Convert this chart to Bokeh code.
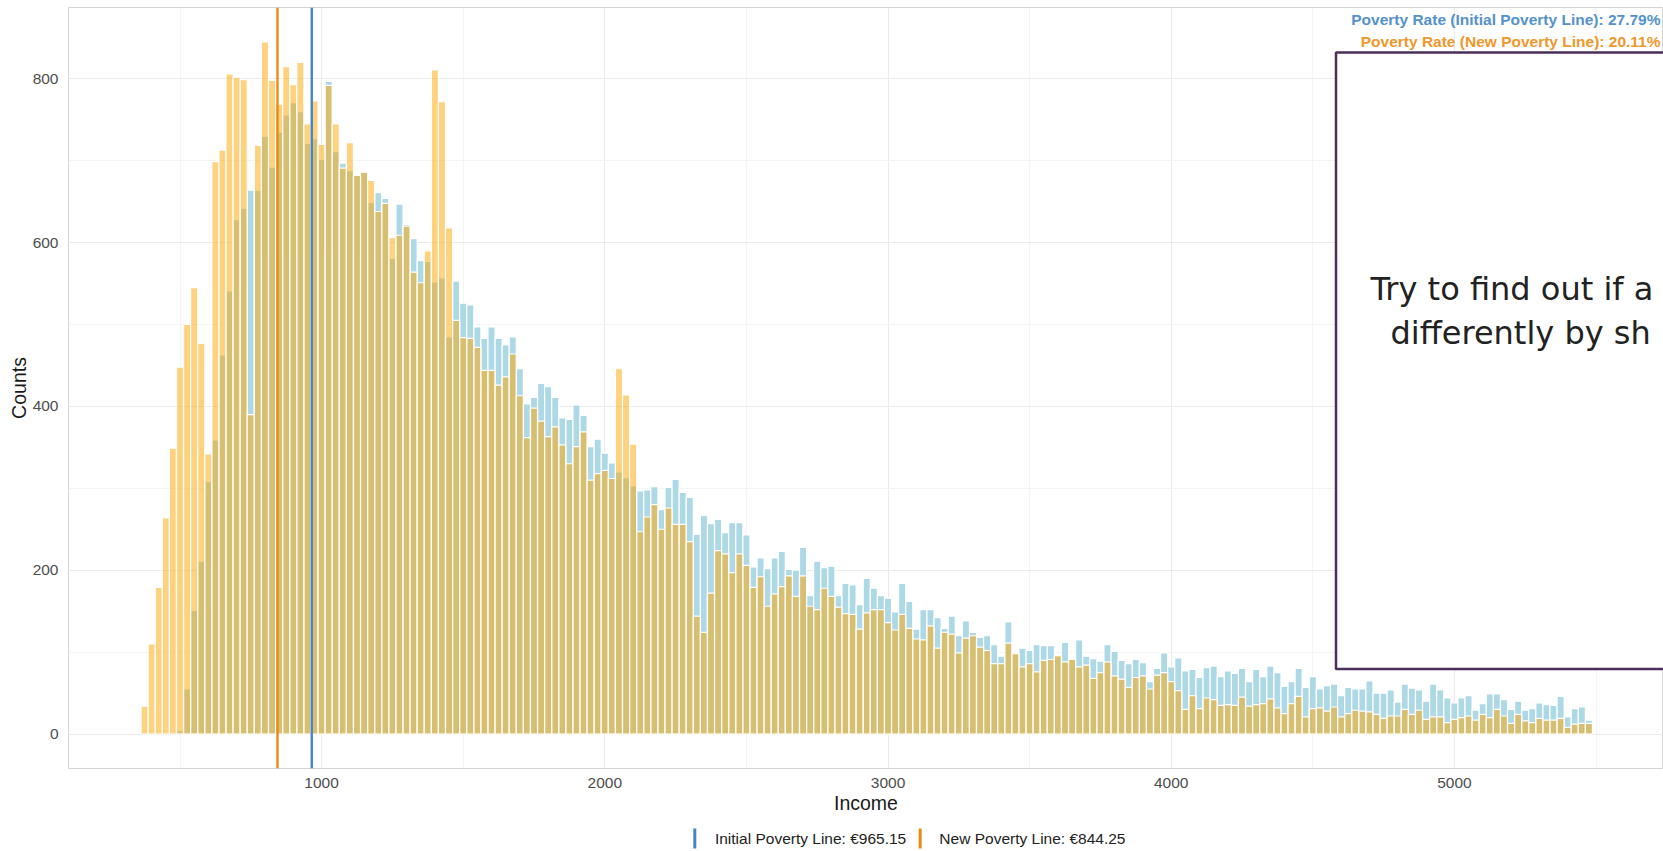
from bokeh.plotting import figure
from bokeh.layouts import column
from bokeh.models import (Range1d, SingleIntervalTicker, Span, BoxAnnotation, Label,
                          ColumnDataSource)
from bokeh.core.properties import value
from bokeh.embed import file_html
from bokeh.resources import INLINE

# ---------------- data ----------------
BIN_START = 375          # centre of the first income bin
BIN_WIDTH = 25           # histogram bin width (income)

# counts per bin, income distribution under the NEW poverty line scenario (orange)
new_counts = [
    34, 110, 179, 264, 349, 448, 500, 545, 477, 342,
    699, 713, 806, 802, 799, 390, 719, 845, 798, 769,
    815, 793, 820, 745, 773, 720, 792, 745, 691, 722,
    682, 686, 676, 638, 648, 606, 609, 620, 564, 551,
    590, 811, 772, 618, 505, 484, 483, 472, 444, 444,
    426, 436, 464, 413, 362, 398, 382, 363, 375, 353,
    330, 351, 369, 310, 318, 322, 312, 446, 414, 354,
    247, 265, 280, 250, 276, 256, 256, 235, 144, 124,
    172, 224, 220, 197, 220, 206, 179, 192, 156, 171,
    180, 193, 168, 193, 156, 152, 178, 168, 155, 147,
    146, 128, 148, 152, 152, 136, 127, 146, 129, 116,
    115, 132, 105, 124, 122, 99, 117, 120, 106, 102,
    86, 86, 111, 98, 82, 86, 76, 90, 91, 96,
    88, 91, 82, 84, 68, 75, 88, 71, 67, 57,
    69, 71, 55, 72, 75, 64, 53, 30, 47, 31,
    44, 42, 35, 36, 35, 45, 34, 36, 37, 43,
    32, 25, 37, 46, 21, 31, 32, 28, 33, 21,
    25, 29, 28, 27, 24, 19, 22, 22, 30, 24,
    29, 18, 21, 21, 14, 18, 20, 22, 17, 24,
    20, 30, 22, 13, 24, 16, 14, 19, 17, 17,
    19, 8, 12, 13, 13,
]

# counts per bin, income distribution under the INITIAL scenario (light blue)
initial_counts = [
    0, 0, 0, 0, 0, 4, 55, 151, 211, 308,
    359, 463, 541, 628, 642, 664, 664, 730, 692, 735,
    756, 771, 760, 721, 727, 702, 797, 711, 697, 688,
    682, 686, 649, 661, 654, 581, 647, 622, 605, 578,
    577, 552, 557, 485, 553, 526, 524, 497, 483, 497,
    483, 475, 485, 446, 403, 411, 428, 424, 411, 386,
    384, 402, 389, 351, 360, 343, 331, 320, 313, 303,
    297, 298, 302, 274, 301, 311, 295, 289, 244, 267,
    257, 262, 246, 258, 258, 243, 204, 215, 202, 215,
    223, 201, 200, 228, 169, 211, 203, 205, 169, 184,
    182, 158, 190, 178, 169, 166, 149, 184, 162, 128,
    152, 152, 142, 129, 144, 120, 138, 124, 118, 120,
    109, 95, 137, 98, 105, 102, 109, 108, 108, 95,
    112, 91, 115, 95, 92, 89, 109, 101, 90, 86,
    91, 87, 64, 80, 99, 82, 93, 77, 79, 69,
    81, 83, 70, 77, 74, 80, 64, 79, 70, 83,
    75, 58, 64, 80, 57, 70, 55, 59, 61, 47,
    57, 55, 55, 65, 50, 50, 54, 39, 61, 56,
    54, 40, 61, 54, 44, 38, 44, 47, 29, 37,
    49, 49, 42, 30, 40, 29, 31, 38, 36, 35,
    46, 21, 31, 33, 17,
]

INITIAL_LINE = 965.15
NEW_LINE = 844.25
RATE_INITIAL = 27.79
RATE_NEW = 20.11

X_TICK_STEP = 1000
Y_TICK_STEP = 200

legend_labels = [f"Initial Poverty Line: \u20ac{INITIAL_LINE:.2f}",
                 f"New Poverty Line: \u20ac{NEW_LINE:.2f}"]

assert len(new_counts) == len(initial_counts) == 205

# ---------------- layout constants ----------------
FIG_W = 1663
MAIN_H = 820
LEG_H = 31
PAGE_H = MAIN_H + LEG_H
FRAME_L, FRAME_T, FRAME_B = 68, 7, 768
X_START, PX_PER_X = 106.25, 0.2832
Y_START, PX_PER_Y = -42.1, 0.819
X_END = X_START + (FIG_W - FRAME_L) / PX_PER_X
Y_END = Y_START + (FRAME_B - FRAME_T) / PX_PER_Y


def px_x(fx):
    return X_START + (fx - FRAME_L) / PX_PER_X


def px_y(fy):
    return Y_START + (FRAME_B - fy) / PX_PER_Y


def leg_y(page_y):
    return PAGE_H - page_y


BLUE_LINE = "#4684C4"
ORANGE_LINE = "#EC8A14"
BLUE_TEXT = "#5592CB"
ORANGE_TEXT = "#EF982C"
FONT = "Liberation Sans"

p = figure(width=FIG_W, height=MAIN_H, output_backend="svg", toolbar_location=None,
           x_range=Range1d(X_START, X_END), y_range=Range1d(Y_START, Y_END),
           min_border_left=FRAME_L, min_border_right=0, min_border_top=FRAME_T,
           min_border_bottom=MAIN_H - FRAME_B,
           background_fill_color="white", border_fill_color="white",
           outline_line_color="#D4D4D4", outline_line_width=1)

xt = SingleIntervalTicker(interval=X_TICK_STEP, num_minor_ticks=2)
yt = SingleIntervalTicker(interval=Y_TICK_STEP, num_minor_ticks=2)
p.xaxis.ticker = xt
p.xgrid.ticker = xt
p.yaxis.ticker = yt
p.ygrid.ticker = yt

for g in (p.xgrid[0], p.ygrid[0]):
    g.grid_line_color = "#EAEAEA"
    g.grid_line_width = 1.1
    g.minor_grid_line_color = "#F3F3F3"
    g.minor_grid_line_width = 0.9

for ax in (p.xaxis[0], p.yaxis[0]):
    ax.axis_line_color = None
    ax.major_tick_line_color = None
    ax.minor_tick_line_color = None
    ax.major_tick_out = 0
    ax.major_tick_in = 0
    ax.major_label_text_font = FONT
    ax.major_label_text_font_size = "15.5px"
    ax.major_label_text_color = "#4D4D4D"
    ax.axis_label_text_font = FONT
    ax.axis_label_text_font_size = "19.5px"
    ax.axis_label_text_font_style = "normal"
    ax.axis_label_text_color = "#1A1A1A"

p.xaxis.axis_label = "Income"
p.yaxis.axis_label = "Counts"
p.xaxis.major_label_standoff = 5
p.xaxis.axis_label_standoff = 1
p.yaxis.major_label_standoff = 6
p.yaxis.axis_label_standoff = 0

centers = [BIN_START + i * BIN_WIDTH for i in range(len(new_counts))]
src_init = ColumnDataSource(dict(
    x=[c for c, v in zip(centers, initial_counts) if v > 0],
    top=[v for v in initial_counts if v > 0]))
src_new = ColumnDataSource(dict(
    x=[c for c, v in zip(centers, new_counts) if v > 0],
    top=[v for v in new_counts if v > 0]))

p.vbar(x="x", top="top", bottom=0, width=BIN_WIDTH, source=src_init,
       fill_color="#ADD8E6", fill_alpha=1.0, line_color="white", line_width=1.2)
p.vbar(x="x", top="top", bottom=0, width=BIN_WIDTH, source=src_new,
       fill_color="#FFA500", fill_alpha=0.5, line_color="white", line_width=1.2)

p.add_layout(Span(location=NEW_LINE, dimension="height", line_color=ORANGE_LINE, line_width=2.4))
p.add_layout(Span(location=INITIAL_LINE, dimension="height", line_color=BLUE_LINE, line_width=2.4))

# poverty-rate annotations (top right)
p.add_layout(Label(x=px_x(1660), y=px_y(18.5), text=f"Poverty Rate (Initial Poverty Line): {RATE_INITIAL:.2f}%",
                   text_align="right", text_baseline="alphabetic", text_font=FONT,
                   text_font_style="bold", text_font_size="15.5px", text_color=BLUE_TEXT))
p.add_layout(Label(x=px_x(1660), y=px_y(41), text=f"Poverty Rate (New Poverty Line): {RATE_NEW:.2f}%",
                   text_align="right", text_baseline="alphabetic", text_font=FONT,
                   text_font_style="bold", text_font_size="15.5px", text_color=ORANGE_TEXT))

# overlay box with hint text
p.add_layout(BoxAnnotation(left=px_x(1335.5), right=px_x(2400), top=px_y(52), bottom=px_y(668.5),
                           fill_color="white", fill_alpha=1.0,
                           line_color="#4B2E5B", line_alpha=1.0, line_width=2.5))
p.add_layout(Label(x=px_x(1370), y=px_y(288), text="Try to find out if a",
                   text_align="left", text_baseline="alphabetic", text_font="DejaVu Sans",
                   text_font_size="32px", text_color="#222222"))
p.add_layout(Label(x=px_x(1390), y=px_y(332), text="differently by sh",
                   text_align="left", text_baseline="alphabetic", text_font="DejaVu Sans",
                   text_font_size="32px", text_color="#222222"))

# ---------------- legend strip (vertical-line keys) ----------------
leg = figure(width=FIG_W, height=LEG_H, output_backend="svg", toolbar_location=None,
             x_range=Range1d(0, FIG_W), y_range=Range1d(0, LEG_H),
             x_axis_location=None, y_axis_location=None,
             min_border_left=0, min_border_right=0, min_border_top=0, min_border_bottom=0,
             background_fill_color="white", border_fill_color="white", outline_line_color=None)
leg.xgrid.visible = False
leg.ygrid.visible = False

KEY_X = [653, 888]
TEXT_X = [674, 908]
leg.segment(x0=KEY_X, x1=KEY_X, y0=[leg_y(828)] * 2, y1=[leg_y(848)] * 2,
            line_color=[BLUE_LINE, ORANGE_LINE], line_width=3)
leg.text(x=TEXT_X, y=[leg_y(838)] * 2, text=legend_labels, text_baseline="middle",
         text_align="left", text_font=value(FONT), text_font_size="15.5px",
         text_color="#222222")

layout = column(p, leg, spacing=0)
open("out.html", "w").write(file_html(layout, INLINE))
